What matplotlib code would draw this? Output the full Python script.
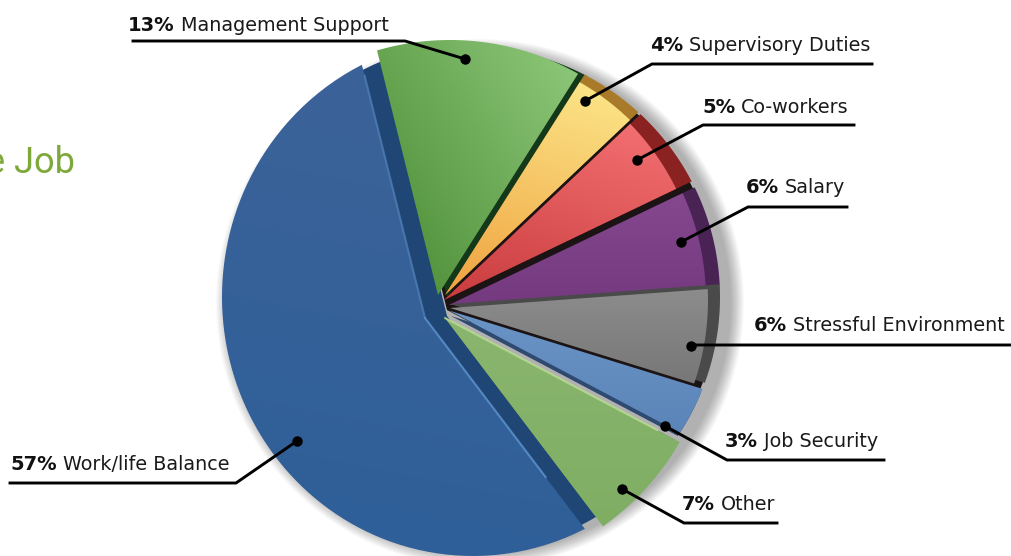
import matplotlib
matplotlib.use('Agg')
import matplotlib.pyplot as plt
import numpy as np
from matplotlib.patches import Circle, Polygon

categories = ['Work/life Balance', 'Other', 'Job Security', 'Stressful Environment',
              'Salary', 'Co-workers', 'Supervisory Duties', 'Management Support']
values = [57, 7, 3, 6, 6, 5, 4, 13]

W, H = 1011, 556
START = 104
OUTER = (470, 297, 250, 250)  # silhouette of the whole pie

# per slice drawing setup, in the order of the values above
apex = [(425, 318), (445, 318), (449, 310.5), (450, 308),
        (449, 305), (444, 300), (445, 295), (438, 295)]
side_apex = [(447, 316), (445, 318), (451, 316), (450, 304),
             (449, 305), (444, 300), (445, 295), (447, 297)]
face_ring = [(473, 297, 251, 259), (450, 310, 265, 265), OUTER, (450, 300, 258, 258),
             (450, 300, 256, 256), (450, 300, 252, 252), (455, 300, 251, 251), (450, 300, 260, 260)]
side_ring = [(473, 297, 246, 254)] + [OUTER] * 7
top_col = ['#3c6398', '#8ab56f', '#6a93c6', '#8c8c8c', '#85488f', '#f26e70', '#fbe487', '#8cc678']
bot_col = ['#2f5f99', '#7fae63', '#5b84b8', '#777777', '#74397f', '#c93c3e', '#f0a23f', '#55953f']
side_col = ['#1f4675', '#5d8549', '#2f4a70', '#4a4a4a', '#4a2355', '#8a2222', '#a87a2a', '#14391a']
light = [(0.2, -1), (0, -1), (0, -1), (0, -1), (0, -1), (0.3, -1), (0.3, -1), (1, -0.6)]
draw_order = [0, 7, 6, 5, 4, 3, 2, 1]

# label text position and leader: x, baseline, shelf end x, shelf y, shelf start x, dot x, dot y
label_x = [10, 682, 725, 754, 746, 702, 650, 128]
label_y = [470, 510, 447, 331, 193, 113, 51, 31]
shelf_far = [10, 777, 884, 1010, 847, 854, 872, 133]
shelf_near = [236, 684, 727, 692, 748, 703, 652, 405]
shelf_y = [483, 523, 460, 345, 207, 125, 64, 41]
dot_x = [297, 622, 665, 691, 681, 637, 585, 465]
dot_y = [441, 489, 426, 346, 242, 160, 101, 59]

plt.rcParams['font.family'] = ['DejaVu Sans']


def wedge_points(a, th0, th1, ring, n=90):
    """Apex plus the arc where rays from the apex meet an off centre ring."""
    cx, cy, rx, ry = ring
    pts = [a]
    for th in np.radians(np.linspace(th0, th1, n)):
        dx, dy = np.cos(th) / rx, -np.sin(th) / ry
        ox, oy = (a[0] - cx) / rx, (a[1] - cy) / ry
        qa = dx * dx + dy * dy
        qb = ox * dx + oy * dy
        qc = ox * ox + oy * oy - 1
        t = (-qb + np.sqrt(qb * qb - qa * qc)) / qa
        pts.append((a[0] + t * np.cos(th), a[1] - t * np.sin(th)))
    return np.array(pts)


def gradient_face(ax, poly, c0, c1, direction):
    """Fill a polygon with a linear gradient by clipping an image to it."""
    pts = poly.get_xy()
    yy, xx = np.mgrid[0:H, 0:W]
    ux, uy = np.array(direction) / np.hypot(*direction)
    proj = xx * ux + yy * uy
    p = pts[:, 0] * ux + pts[:, 1] * uy
    t = np.clip((proj - p.min()) / (p.max() - p.min()), 0, 1)[..., None]
    c0, c1 = np.array(matplotlib.colors.to_rgb(c0)), np.array(matplotlib.colors.to_rgb(c1))
    # direction points at the light, so t = 1 takes the top colour
    im = ax.imshow(c1 * (1 - t) + c0 * t, extent=(0, W, H, 0), aspect='auto',
                   interpolation='bilinear', zorder=poly.get_zorder())
    im.set_clip_path(poly)


fig = plt.figure(figsize=(W / 100, H / 100), dpi=100)
ax = fig.add_axes([0, 0, 1, 1])

# soft drop shadow behind the pie
for r in np.arange(264, 250, -1):
    ax.add_patch(Circle((OUTER[0] + 10, OUTER[1] + 6), r, fc='black', ec='none', alpha=0.022, zorder=1))

total = sum(values)
edges = START + np.cumsum([0] + values) * 360.0 / total

# near black backing shows through as the thin gaps between the slices
ax.add_patch(Polygon(wedge_points((447, 310), edges[2], edges[8], (470, 297, 248, 248)),
                     fc='#1c1414', ec='none', zorder=2))

z = 3
for i in draw_order:
    th0, th1 = edges[i], edges[i + 1]
    side = Polygon(wedge_points(side_apex[i], th0, th1, side_ring[i]), fc=side_col[i], ec='none', zorder=z)
    ax.add_patch(side)
    face = Polygon(wedge_points(apex[i], th0, th1, face_ring[i]), fc='none', ec='none', zorder=z + 1)
    ax.add_patch(face)
    gradient_face(ax, face, top_col[i], bot_col[i], light[i])
    z += 2

# bevel highlights on the straight edges
for i, th, length, col, lw in [(0, edges[0], 250, '#4f7fb5', 1.5), (0, edges[1], 200, '#5f96d0', 1.5),
                               (1, edges[1] + 25, 240, '#b9e08f', 1.5)]:
    ax.plot([apex[i][0], apex[i][0] + length * np.cos(np.radians(th))],
            [apex[i][1], apex[i][1] - length * np.sin(np.radians(th))],
            color=col, lw=lw, alpha=0.8, solid_capstyle='round', zorder=40)

ax.set_xlim(0, W)
ax.set_ylim(H, 0)
ax.axis('off')

# leader lines, dots and two weight labels
renderer = fig.canvas.get_renderer()
for i, name in enumerate(categories):
    ax.plot([shelf_far[i], shelf_near[i], dot_x[i]], [shelf_y[i], shelf_y[i], dot_y[i]],
            color='black', lw=2.1, solid_joinstyle='miter', zorder=50)
    ax.plot(dot_x[i], dot_y[i], 'o', color='black', ms=7.5, mew=0, zorder=51)
    pct = ax.text(label_x[i], label_y[i], '%d%%' % values[i], fontsize=14, fontweight='bold',
                  va='baseline', ha='left', color='#111111', zorder=52)
    box = pct.get_window_extent(renderer)
    ax.text(box.x1 + 6, label_y[i], name, fontsize=13.8, va='baseline', ha='left',
            color='#1a1a1a', zorder=52)

ax.text(75, 173, 'e Job', fontsize=26, family=['Roboto', 'DejaVu Sans'],
        color='#7fa83a', ha='right', va='baseline', zorder=52)

fig.savefig('out.png', dpi=100)
